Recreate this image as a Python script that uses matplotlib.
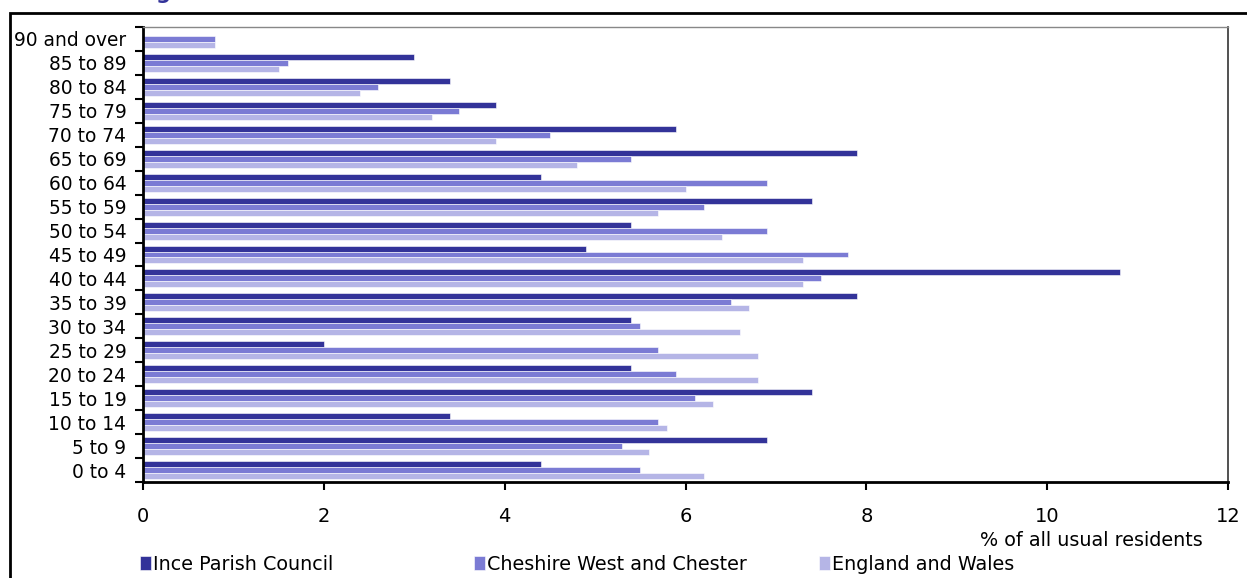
import matplotlib
matplotlib.use("Agg")
import matplotlib.pyplot as plt
import numpy as np
from matplotlib.patches import Rectangle

plt.rcParams['font.family'] = ['DejaVu Sans']

categories = ["0 to 4", "5 to 9", "10 to 14", "15 to 19", "20 to 24", "25 to 29",
              "30 to 34", "35 to 39", "40 to 44", "45 to 49", "50 to 54", "55 to 59",
              "60 to 64", "65 to 69", "70 to 74", "75 to 79", "80 to 84", "85 to 89",
              "90 and over"]
ince = [4.4, 6.9, 3.4, 7.4, 5.4, 2.0, 5.4, 7.9, 10.8, 4.9, 5.4, 7.4, 4.4, 7.9, 5.9,
        3.9, 3.4, 3.0, 0.0]
cheshire = [5.5, 5.3, 5.7, 6.1, 5.9, 5.7, 5.5, 6.5, 7.5, 7.8, 6.9, 6.2, 6.9, 5.4, 4.5,
            3.5, 2.6, 1.6, 0.8]
england = [6.2, 5.6, 5.8, 6.3, 6.8, 6.8, 6.6, 6.7, 7.3, 7.3, 6.4, 5.7, 6.0, 4.8, 3.9,
           3.2, 2.4, 1.5, 0.8]
series_names = ["Ince Parish Council", "Cheshire West and Chester", "England and Wales"]
x_ticks = [0, 2, 4, 6, 8, 10, 12]
x_label = "% of all usual residents"
title = "Age structure"

colors = ["#333399", "#7b7bd4", "#b5b5e6"]

W, H = 1247, 578
fig = plt.figure(figsize=(W / 100, H / 100), dpi=100)
ax = fig.add_axes([143 / W, 1 - 482 / H, (1228 - 143) / W, (482 - 27) / H])

y = np.arange(len(categories))
bh = 0.25
handles = []
for i, (vals, c, name) in enumerate(zip([ince, cheshire, england], colors, series_names)):
    h = ax.barh(y + bh * (1 - i), vals, height=bh, color=c, edgecolor='white',
                linewidth=0.4, label=name)
    handles.append(h)

ax.set_xlim(0, 12)
ax.set_ylim(-0.5, len(categories) - 0.5)
ax.set_xticks(x_ticks)
ax.set_xticklabels([str(t) for t in x_ticks], fontsize=14)
ax.tick_params(axis='x', direction='out', length=6, width=1.5, pad=12)

ax.set_yticks(np.arange(len(categories) + 1) - 0.5)
ax.set_yticklabels([])
ax.set_yticks(y, minor=True)
ax.set_yticklabels(categories, minor=True, fontsize=13.4)
ax.tick_params(axis='y', which='major', direction='out', length=6, width=1.5)
ax.tick_params(axis='y', which='minor', length=0, pad=12)

for s in ['left', 'bottom']:
    ax.spines[s].set_linewidth(2)
    ax.spines[s].set_color('black')
ax.spines['top'].set_color('#888888')
ax.spines['top'].set_linewidth(1)
ax.spines['right'].set_color('#333333')
ax.spines['right'].set_linewidth(1.2)

fig.text(1203 / W, 1 - 540 / H, x_label, ha='right', va='center', fontsize=13.8)

leg_x = [140 / W, 474 / W, 819 / W]
for h, lx in zip(handles, leg_x):
    fig.legend(handles=[h], labels=[h.get_label()], loc='center left',
               bbox_to_anchor=(lx, 1 - 564 / H), frameon=False, fontsize=13.8,
               handlelength=0.55, handleheight=0.75, handletextpad=0.15,
               borderpad=0, borderaxespad=0)

# outer frame
fig.patches.append(Rectangle((10 / W, -0.1), 1.2, 1 - 13 / H + 0.1,
                             transform=fig.transFigure, fill=False,
                             edgecolor='black', linewidth=2, clip_on=False))

fig.text(140 / W, 1 + 1 / H, title, ha='left', va='baseline', fontsize=15,
         fontweight='bold', color='#333399')

fig.savefig("out.png", dpi=100)
